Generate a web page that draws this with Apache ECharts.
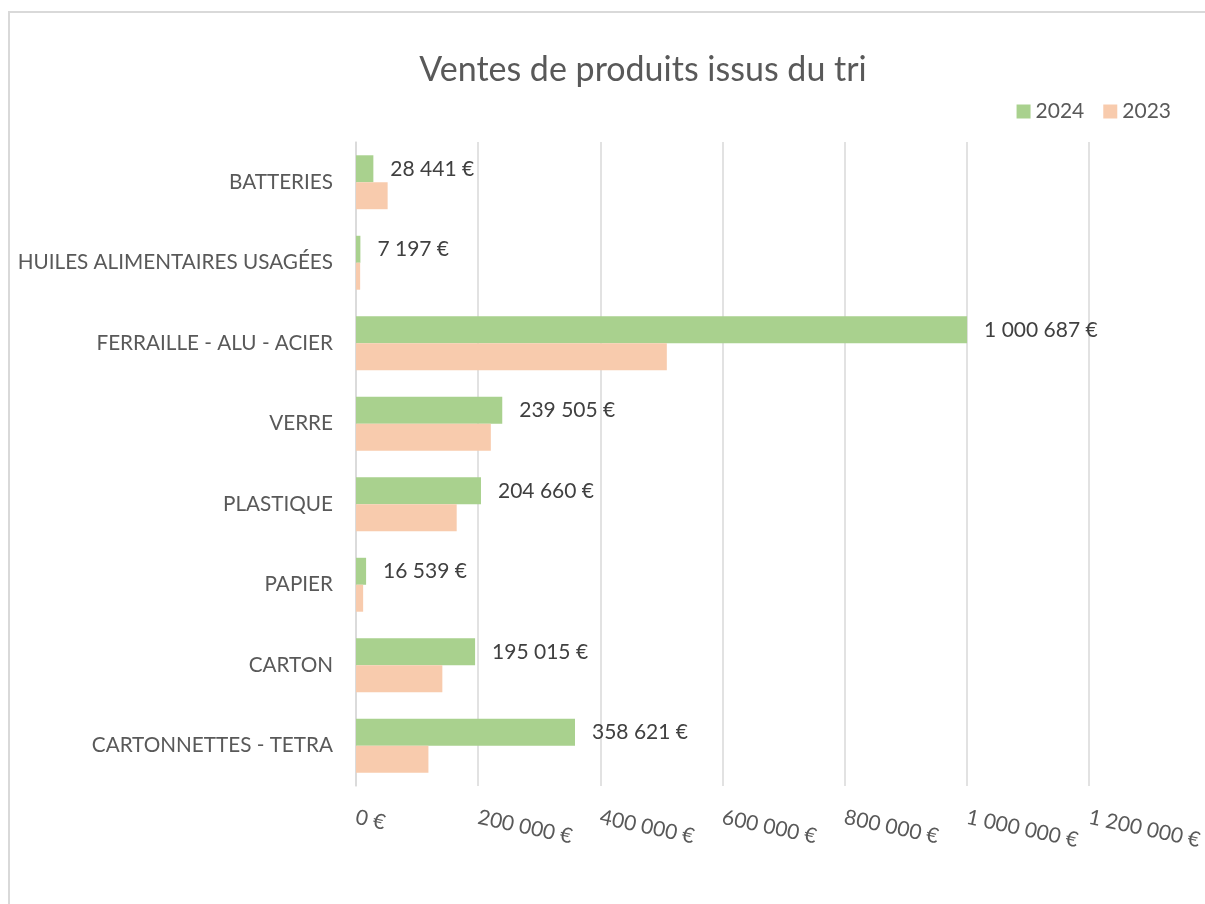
<!DOCTYPE html>
<html>
<head>
<meta charset="utf-8">
<script src="https://cdn.jsdelivr.net/npm/echarts@6/dist/echarts.min.js"></script>
<style>
  html, body { margin: 0; padding: 0; background: #ffffff; }
  #chart { width: 1205px; height: 904px; }
</style>
</head>
<body>
<div id="chart"></div>
<script>
const categories = [
  'BATTERIES',
  'HUILES ALIMENTAIRES USAGÉES',
  'FERRAILLE - ALU - ACIER',
  'VERRE',
  'PLASTIQUE',
  'PAPIER',
  'CARTON',
  'CARTONNETTES - TETRA'
];
const values2024 = [28441, 7197, 1000687, 239505, 204660, 16539, 195015, 358621];
const values2023 = [51800, 6800, 509000, 220800, 164900, 11700, 141400, 118600];
const seriesNames = ['2024', '2023'];
const axisMin = 0;
const axisMax = 1200000;
const axisStep = 200000;

function fmtEuro(v) {
  return String(Math.round(v)).replace(/\B(?=(\d{3})+(?!\d))/g, ' ') + ' €';
}

const FONT = 'Lato, "Open Sans", sans-serif';
const chart = echarts.init(document.getElementById('chart'), null, { renderer: 'canvas' });

chart.setOption({
  backgroundColor: '#ffffff',
  animation: false,
  textStyle: { fontFamily: FONT },
  graphic: [{
    type: 'rect',
    shape: { x: 9, y: 12, width: 2000, height: 2000 },
    style: { fill: 'none', stroke: '#d9d9d9', lineWidth: 2 },
    silent: true
  }],
  title: {
    text: 'Ventes de produits issus du tri',
    left: 638,
    top: 48,
    textAlign: 'center',
    textStyle: { fontFamily: FONT, fontSize: 34, fontWeight: 'normal', color: '#595959' }
  },
  legend: {
    data: seriesNames,
    right: 29,
    top: 96,
    itemWidth: 14,
    itemHeight: 14,
    itemGap: 19,
    icon: 'rect',
    textStyle: { fontFamily: FONT, fontSize: 21, color: '#595959' }
  },
  grid: { left: 356, right: 108, top: 142, bottom: 118, containLabel: false },
  xAxis: {
    type: 'value',
    min: axisMin,
    max: axisMax,
    interval: axisStep,
    axisLine: { show: false },
    axisTick: { show: false },
    splitLine: { show: true, lineStyle: { color: '#d9d9d9', width: 1.5 } },
    axisLabel: {
      formatter: fmtEuro,
      rotate: -12,
      margin: 31,
      fontFamily: FONT,
      fontSize: 21,
      color: '#595959'
    }
  },
  yAxis: {
    type: 'category',
    data: categories,
    inverse: true,
    axisLine: { show: true, lineStyle: { color: '#d9d9d9', width: 1.5 } },
    axisTick: { show: false },
    axisLabel: { margin: 23, fontFamily: FONT, fontSize: 20.7, color: '#595959' }
  },
  series: [
    {
      name: seriesNames[0],
      type: 'bar',
      data: values2024,
      barGap: '0%',
      barCategoryGap: '33%',
      itemStyle: { color: '#a9d18e' },
      label: {
        show: true,
        position: 'right',
        distance: 17,
        formatter: p => fmtEuro(p.value),
        fontFamily: FONT,
        fontSize: 21,
        color: '#404040'
      }
    },
    {
      name: seriesNames[1],
      type: 'bar',
      data: values2023,
      barGap: '0%',
      barCategoryGap: '33%',
      itemStyle: { color: '#f8cbad' }
    }
  ]
});
</script>
</body>
</html>
